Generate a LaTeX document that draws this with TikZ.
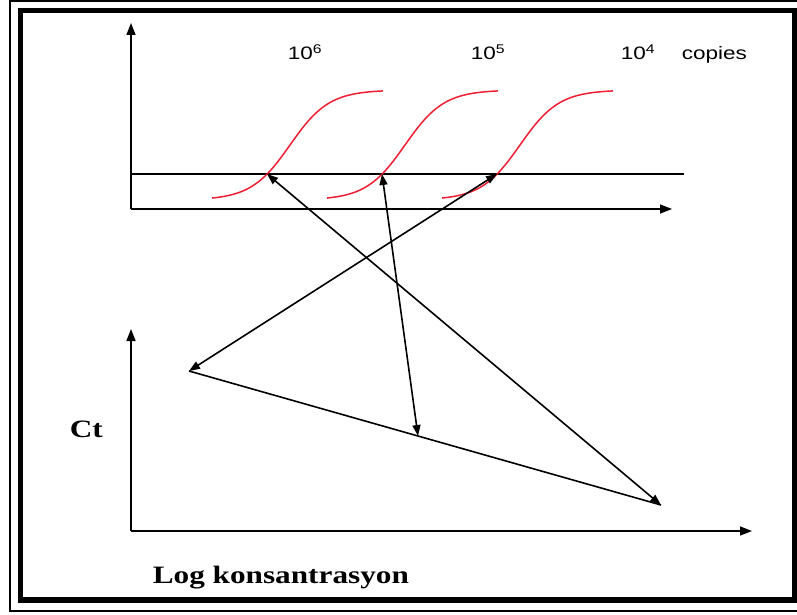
\documentclass[tikz,border=0pt]{standalone}
\usepackage{fontspec}
\usepackage{graphicx}
\setmainfont{Liberation Serif}
\setsansfont{Liberation Sans}
\usetikzlibrary{arrows.meta}
\definecolor{pcrred}{RGB}{240,30,50}
\newcommand{\widen}[1]{\scalebox{1.25}[1]{#1}}

\begin{document}
\begin{tikzpicture}[x=1pt, y=-1pt, line width=1.6pt,
  axis/.style={-{Triangle[length=12pt,width=9pt]}},
  link/.style={{Triangle[length=11pt,width=8pt]}-{Triangle[length=11pt,width=8pt]}},
  curve/.style={draw=pcrred, line width=1.5pt},
  copylabel/.style={anchor=base west, inner sep=0pt, font=\sffamily\fontsize{18}{20}\selectfont},
  axlabel/.style={anchor=base west, inner sep=0pt, font=\rmfamily\bfseries\fontsize{25}{28}\selectfont}]
  \useasboundingbox (0,0) rectangle (797,615);
  % frames
  \draw[line width=1.6pt] (10,1) rectangle (805,611);
  \draw[line width=5.5pt] (20.5,10.5) rectangle (794.5,600);

  % amplification plot
  \coordinate (o1) at (131,209);
  \draw[axis] (o1) -- (131,23);
  \draw[axis] (o1) -- (672,209);
  \draw (131,174) -- (684,174);
  \foreach \s in {0,115,230}
    \draw[curve] plot[domain=212:383, samples=60] ({\x+\s}, {145-55*tanh((\x-290)/39)});
  \coordinate (c1) at (267,174);
  \coordinate (c2) at (382,174);
  \coordinate (c3) at (497,174);
  \node[copylabel] (n6) at (287,60) {\widen{10\textsuperscript{6}}};
  \node[copylabel] (n5) at (470,60) {\widen{10\textsuperscript{5}}};
  \node[copylabel] (n4) at (620,60) {\widen{10\textsuperscript{4}}};
  \node[copylabel] (copies) at (681,60) {\widen{copies}};

  % standard curve
  \coordinate (o2) at (131,531);
  \draw[axis] (o2) -- (131,329);
  \draw[axis] (o2) -- (752,531);
  \coordinate (p1) at (189,371);
  \coordinate (p2) at (418,436);
  \coordinate (p3) at (661,505);
  \draw (p1) -- (p3);
  \draw[link] (c1) -- (p3);
  \draw[link] (c2) -- (p2);
  \draw[link] (c3) -- (p1);
  \node[axlabel] (ct) at (69,437) {\widen{Ct}};
  \node[axlabel] (logc) at (152,583) {\widen{Log konsantrasyon}};
\end{tikzpicture}
\end{document}
